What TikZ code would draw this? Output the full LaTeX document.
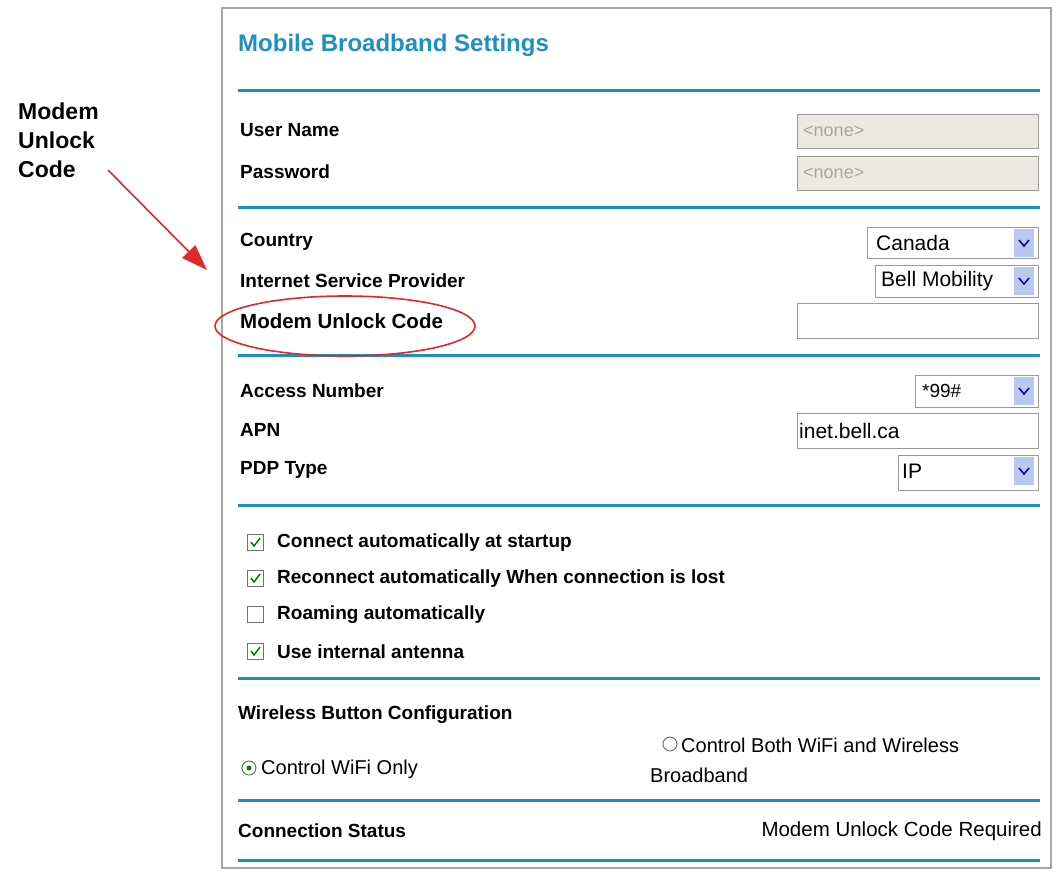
\documentclass[tikz,border=0pt]{standalone}
\usepackage{fontspec}
\setmainfont{Liberation Sans}
\usetikzlibrary{arrows.meta}
\definecolor{tb}{HTML}{1E8FC0}
\definecolor{fieldgray}{HTML}{ECE9E1}
\definecolor{arrowblue}{HTML}{B8C8F0}
\definecolor{annred}{HTML}{E02828}
\tikzset{x=1pt,y=-1pt,
 sep/.style={tb,line width=3pt},
 lbl/.style={anchor=west,font=\fontsize{19}{21}\selectfont\bfseries,inner sep=0},
 val/.style={anchor=west,font=\fontsize{21}{23}\selectfont,inner sep=0},
 fld/.style={draw=gray!80,line width=0.8pt},
 cbox/.style={draw=gray!90!black,line width=0.9pt,fill=white}}
\newcommand{\chk}[2]{\draw[cbox] (#1-8,#2-8) rectangle (#1+8,#2+8);
 \draw[green!45!black,line width=1.4pt] (#1-4,#2) -- (#1-1,#2+4) -- (#1+5,#2-4);}
\newcommand{\ddarrow}[2]{\fill[arrowblue] (#1,#2-14) rectangle (#1+20,#2+14);
 \draw[blue!60!black,line width=1.5pt] (#1+5,#2-3) -- (#1+10,#2+3) -- (#1+15,#2-3);}
\begin{document}
\begin{tikzpicture}
\useasboundingbox (0,0) rectangle (1056,873);
\fill[white] (0,0) rectangle (1056,873);
\draw[gray!70,line width=2pt] (222,8) rectangle (1051,868);
\node[anchor=west,tb,font=\fontsize{24}{27}\selectfont\bfseries,inner sep=0] (title) at (238,45) {Mobile Broadband Settings};
\foreach \y in {90,207,355,505,678,800,860} \draw[sep] (238,\y) -- (1040,\y);
% labels
\node[lbl] (un) at (240,130) {User Name};
\node[lbl] (pw) at (240,172) {Password};
\node[lbl] (co) at (240,242) {Country};
\node[lbl] (isp) at (240,281) {Internet Service Provider};
\node[lbl,font=\fontsize{20.5}{23}\selectfont\bfseries] (muc) at (240,321) {Modem Unlock Code};
\node[lbl] (an) at (240,391) {Access Number};
\node[lbl] (apn) at (240,430) {APN};
\node[lbl] (pdp) at (240,470) {PDP Type};
% fields
\draw[fld,fill=fieldgray] (797,114) rectangle (1038,148);
\node[val,gray!70,font=\fontsize{18}{20}\selectfont] (unv) at (803,131) {<none>};
\draw[fld,fill=fieldgray] (797,156) rectangle (1038,190);
\node[val,gray!70,font=\fontsize{18}{20}\selectfont] (pwv) at (803,173) {<none>};
\draw[fld] (867,227) rectangle (1038,258);
\node[val] (cov) at (876,243) {Canada};
\ddarrow{1014}{243}
\draw[fld] (875,265) rectangle (1038,297);
\node[val] (ispv) at (881,281) {Bell Mobility};
\ddarrow{1014}{281}
\draw[fld] (797,303) rectangle (1038,338);
\draw[fld] (915,375) rectangle (1038,407);
\node[val,font=\fontsize{19}{21}\selectfont] (anv) at (922,391) {*99\#};
\ddarrow{1014}{391}
\draw[fld] (797,413) rectangle (1038,448);
\node[val] (apnv) at (799,431) {inet.bell.ca};
\draw[fld] (898,455) rectangle (1038,490);
\node[val] (pdpv) at (902,471) {IP};
\ddarrow{1014}{471}
% checkboxes
\chk{255}{542}
\node[lbl] (c1) at (277,543) {Connect automatically at startup};
\chk{255}{578}
\node[lbl] (c2) at (277,579) {Reconnect automatically When connection is lost};
\draw[cbox] (247,606) rectangle (263,622);
\node[lbl] (c3) at (277,615) {Roaming automatically};
\chk{255}{651}
\node[lbl] (c4) at (277,652) {Use internal antenna};
% wireless
\node[lbl] (wb) at (238,715) {Wireless Button Configuration};
\draw[gray!80!black,line width=0.9pt,fill=white] (249,768) circle (7);
\fill[green!50!black] (249,768) circle (2.5);
\node[val,font=\fontsize{20}{22}\selectfont] (r1) at (261,769) {Control WiFi Only};
\draw[gray!80!black,line width=0.9pt,fill=white] (670,744) circle (7);
\node[val,font=\fontsize{20}{22}\selectfont] (r2) at (681,745) {Control Both WiFi and Wireless};
\node[val,font=\fontsize{20}{22}\selectfont] (r2b) at (650,775) {Broadband};
\node[lbl] (cs) at (238,831) {Connection Status};
\node[val,anchor=east,font=\fontsize{20.5}{22}\selectfont] (csv) at (1042,831) {Modem Unlock Code Required};
% annotation
\draw[annred,line width=1.6pt] (345,326) ellipse (130 and 30);
\node[anchor=north west,align=left,inner sep=0,font=\fontsize{23}{29}\selectfont\bfseries] (note) at (18,103) {Modem\\Unlock\\Code};
\coordinate (tip) at (207,270);
\draw[annred,line width=1.6pt,-{Triangle[length=26pt,width=18pt]}] (108,170) -- (tip);
\end{tikzpicture}
\end{document}
